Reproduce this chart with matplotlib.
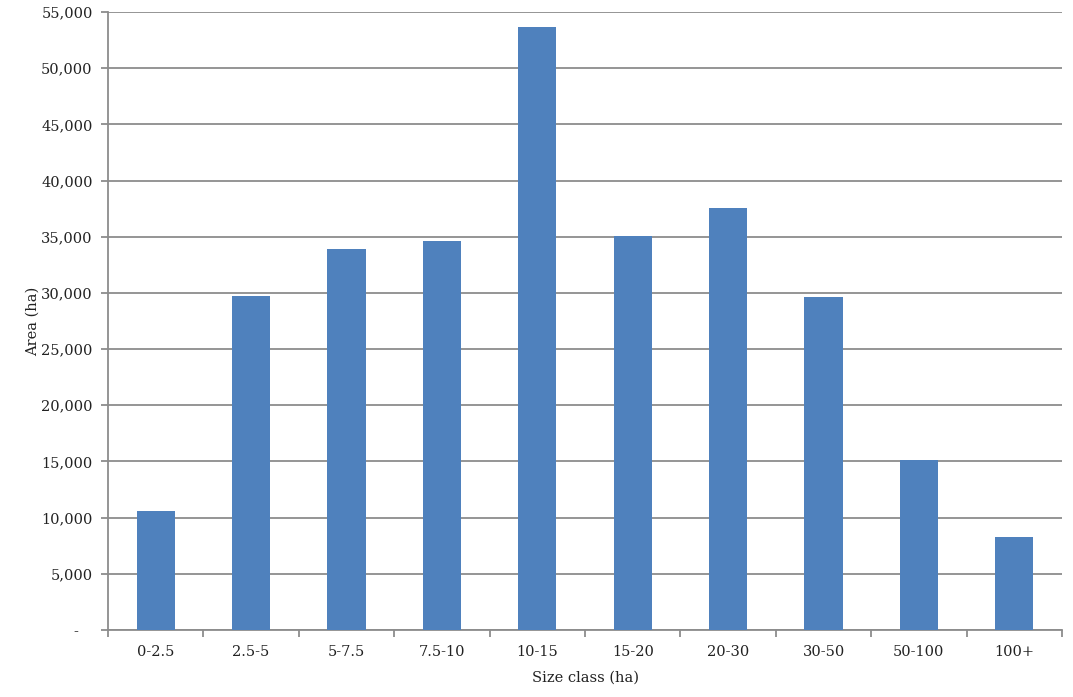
import matplotlib
matplotlib.use("Agg")
import matplotlib.pyplot as plt
from matplotlib.ticker import FuncFormatter, FixedLocator, NullFormatter

categories = ["0-2.5", "2.5-5", "5-7.5", "7.5-10", "10-15", "15-20", "20-30", "30-50", "50-100", "100+"]
area_ha = [10600, 29750, 33900, 34600, 53700, 35100, 37550, 29650, 15150, 8300]
y_ticks = list(range(0, 55001, 5000))

plt.rcParams['font.family'] = ['DejaVu Serif']
fig = plt.figure(figsize=(10.73, 6.97), dpi=100)
ax = fig.add_axes([108/1073, 1 - 630/697, (1062-108)/1073, (630-12)/697])

grid_c = "#8c8c8c"
x = list(range(len(categories)))
ax.bar(x, area_ha, width=0.4, color="#4F81BD", zorder=3)

ax.set_xlim(-0.5, len(categories) - 0.5)
ax.set_ylim(0, 55000)
ax.set_yticks(y_ticks)
ax.yaxis.set_major_formatter(FuncFormatter(lambda v, p: "-   " if v == 0 else f"{int(v):,}"))
ax.yaxis.grid(True, color=grid_c, linewidth=1.3, zorder=0)

ax.set_xticks(x)
ax.set_xticklabels(categories)
ax.tick_params(axis='x', which='major', length=0, pad=11, labelsize=10.5, colors="#222222")
ax.xaxis.set_minor_locator(FixedLocator([i - 0.5 for i in range(len(categories) + 1)]))
ax.xaxis.set_minor_formatter(NullFormatter())
ax.tick_params(axis='x', which='minor', length=5, width=1.3, color=grid_c, direction='out')
ax.tick_params(axis='y', length=5, width=1.3, color=grid_c, labelsize=10.5, labelcolor="#222222", pad=6)

for s in ["top", "right"]:
    ax.spines[s].set_visible(False)
for s in ["left", "bottom"]:
    ax.spines[s].set_color(grid_c)
    ax.spines[s].set_linewidth(1.3)

ax.set_xlabel("Size class (ha)", fontsize=10.5, color="#222222", labelpad=8)
ax.set_ylabel("Area (ha)", fontsize=10.5, color="#222222", labelpad=1)

fig.savefig("out.png", dpi=100)
